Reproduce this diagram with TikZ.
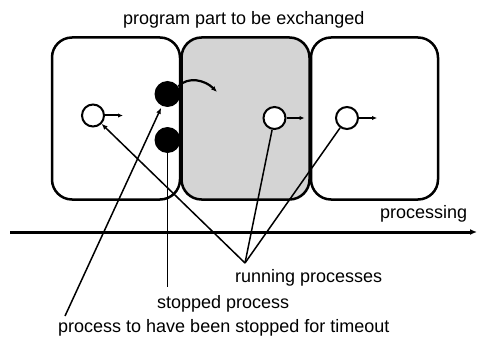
\documentclass[tikz,border=0pt]{standalone}
\usepackage{fontspec}
\setmainfont{Liberation Sans}
\usetikzlibrary{arrows.meta}
\begin{document}
\begin{tikzpicture}[x=1pt,y=-1pt,
  part/.style={draw, line width=2.5pt, rounded corners=20pt, minimum height=162pt, inner sep=0pt},
  proc/.style={circle, draw, line width=2pt, fill=white, minimum size=22pt, inner sep=0pt},
  halted/.style={circle, fill=black, minimum size=26pt, inner sep=0pt},
  lead/.style={line width=1.5pt},
  tip/.style={-{Latex[length=6pt,width=5pt]}},
  lbl/.style={font=\fontsize{18}{20}\selectfont, inner sep=0pt, anchor=base west}]
\useasboundingbox (0,0) rectangle (477,337);

% three program parts, the middle one to be exchanged
\node[part, minimum width=128pt] (p1) at (116,118.5) {};
\node[part, minimum width=128pt, fill=black!17] (p2) at (245.5,118.5) {};
\node[part, minimum width=127pt] (p3) at (374.5,118.5) {};

\node[lbl] (title) at (123,25) {program part to be exchanged};

% running processes
\node[proc] (c1) at (93,115.5) {};
\node[proc] (c2) at (274.5,118) {};
\node[proc] (c3) at (347,118) {};
\foreach \c in {c1,c2,c3}
  \draw[line width=2pt, -{Latex[length=5pt,width=4.5pt]}] (\c.east) -- ++(18,0);

% stopped processes
\node[halted] (s1) at (167.5,94) {};
\node[halted] (s2) at (167.5,140) {};
\draw[line width=2.2pt, -{Latex[length=6pt,width=5pt]}] (s1.35) .. controls (188,76) and (205,80) .. (217,92);

% time axis
\coordinate (ax0) at (10,232);
\coordinate (ax1) at (477,232);
\draw[line width=3pt, -{Latex[length=7pt,width=6pt]}] (ax0) -- (ax1);
\node[lbl] (proc) at (380,218) {processing};

% labels and leader lines
\coordinate (rp) at (245,263);
\draw[lead, tip] (rp) -- (c1);
\draw[lead] (rp) -- (c2);
\draw[lead] (rp) -- (c3);
\node[lbl] (run) at (235,282) {running processes};

\coordinate (sp) at (167.5,287);
\draw[lead] (s2.south) -- (sp);
\node[lbl] (stop) at (157,308) {stopped process};

\coordinate (tp) at (65,316);
\draw[lead, tip, shorten >=2pt] (tp) -- (s1);
\node[lbl] (tmo) at (58,332.5) {process to have been stopped for timeout};
\end{tikzpicture}
\end{document}
